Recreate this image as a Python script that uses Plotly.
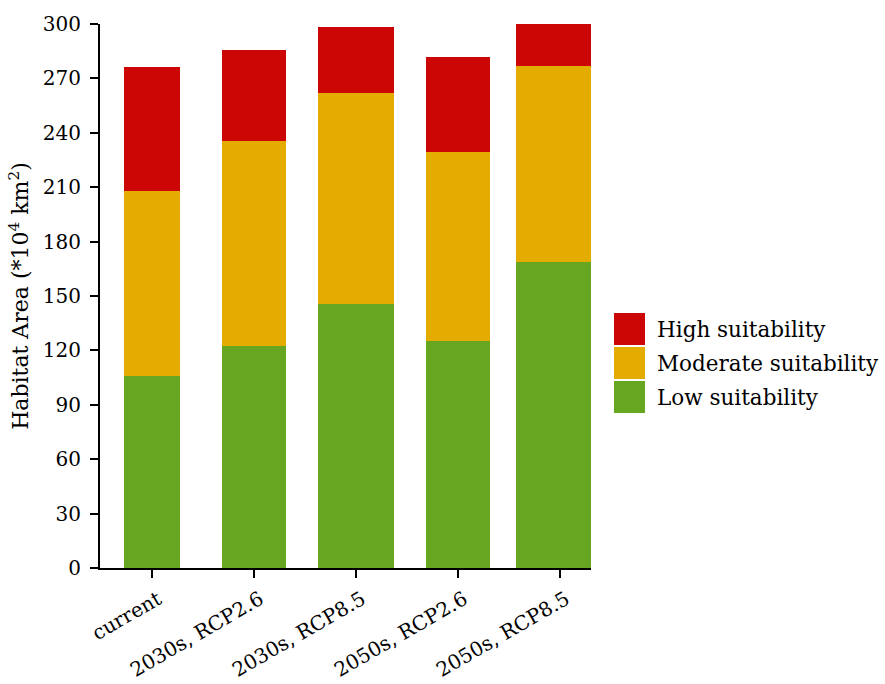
import plotly.graph_objects as go

categories = ["current", "2030s, RCP2.6", "2030s, RCP8.5", "2050s, RCP2.6", "2050s, RCP8.5"]
low = [105.7, 122.4, 145.6, 125.2, 168.9]
moderate = [102.0, 112.9, 116.5, 104.4, 107.9]
high = [68.4, 50.2, 36.2, 52.2, 23.2]
series_names = ["Low suitability", "Moderate suitability", "High suitability"]
y_ticks = [0, 30, 60, 90, 120, 150, 180, 210, 240, 270, 300]

colors = ["#66A621", "#E4AB00", "#CC0505"]
bar_widths = [0.542, 0.624, 0.738, 0.637, 0.87]
FONT = "DejaVu Serif"

fig = go.Figure()
for vals, name, col in zip([low, moderate, high], series_names, colors):
    fig.add_trace(go.Bar(x=categories, y=vals, name=name, marker_color=col,
                         marker_line_width=0, width=bar_widths, showlegend=False))

# custom legend (large square keys)
for i, (name, col) in enumerate(zip(series_names[::-1], colors[::-1])):
    top_px = 313 + i * 34
    y1 = (568 - top_px) / 544
    y0 = (568 - (top_px + 32)) / 544
    fig.add_shape(type="rect", xref="paper", yref="paper",
                  x0=(614 - 100) / 491, x1=(645 - 100) / 491, y0=y0, y1=y1,
                  fillcolor=col, line_width=0)
    fig.add_annotation(xref="paper", yref="paper", x=(655 - 100) / 491, y=(y0 + y1) / 2,
                       text=name, showarrow=False, xanchor="left", yanchor="middle",
                       font=dict(family=FONT, size=21.5, color="black"))

fig.update_layout(
    barmode="stack",
    width=885, height=684,
    margin=dict(l=100, r=294, t=24, b=116, autoexpand=False),
    plot_bgcolor="white", paper_bgcolor="white",
    font=dict(family=FONT, color="black"),
)
fig.update_xaxes(
    type="category", range=[-0.51, 4.304], automargin=False,
    showline=True, linecolor="black", linewidth=2,
    ticks="outside", ticklen=8, tickwidth=2, tickcolor="black",
    tickangle=-30, ticklabelshift=6, ticklabelstandoff=2,
    tickfont=dict(family=FONT, size=20, color="black"),
    showgrid=False,
)
fig.update_yaxes(
    range=[0, 300], tickvals=y_ticks, automargin=False,
    showline=True, linecolor="black", linewidth=2,
    ticks="outside", ticklen=8, tickwidth=2, tickcolor="black",
    ticklabelstandoff=5,
    tickfont=dict(family=FONT, size=20, color="black"),
    showgrid=False, zeroline=False,
    title=dict(text="Habitat Area (*10<sup>4</sup> km<sup>2</sup>)",
               font=dict(family=FONT, size=22, color="black"), standoff=8),
)

fig.write_html("out.html")
